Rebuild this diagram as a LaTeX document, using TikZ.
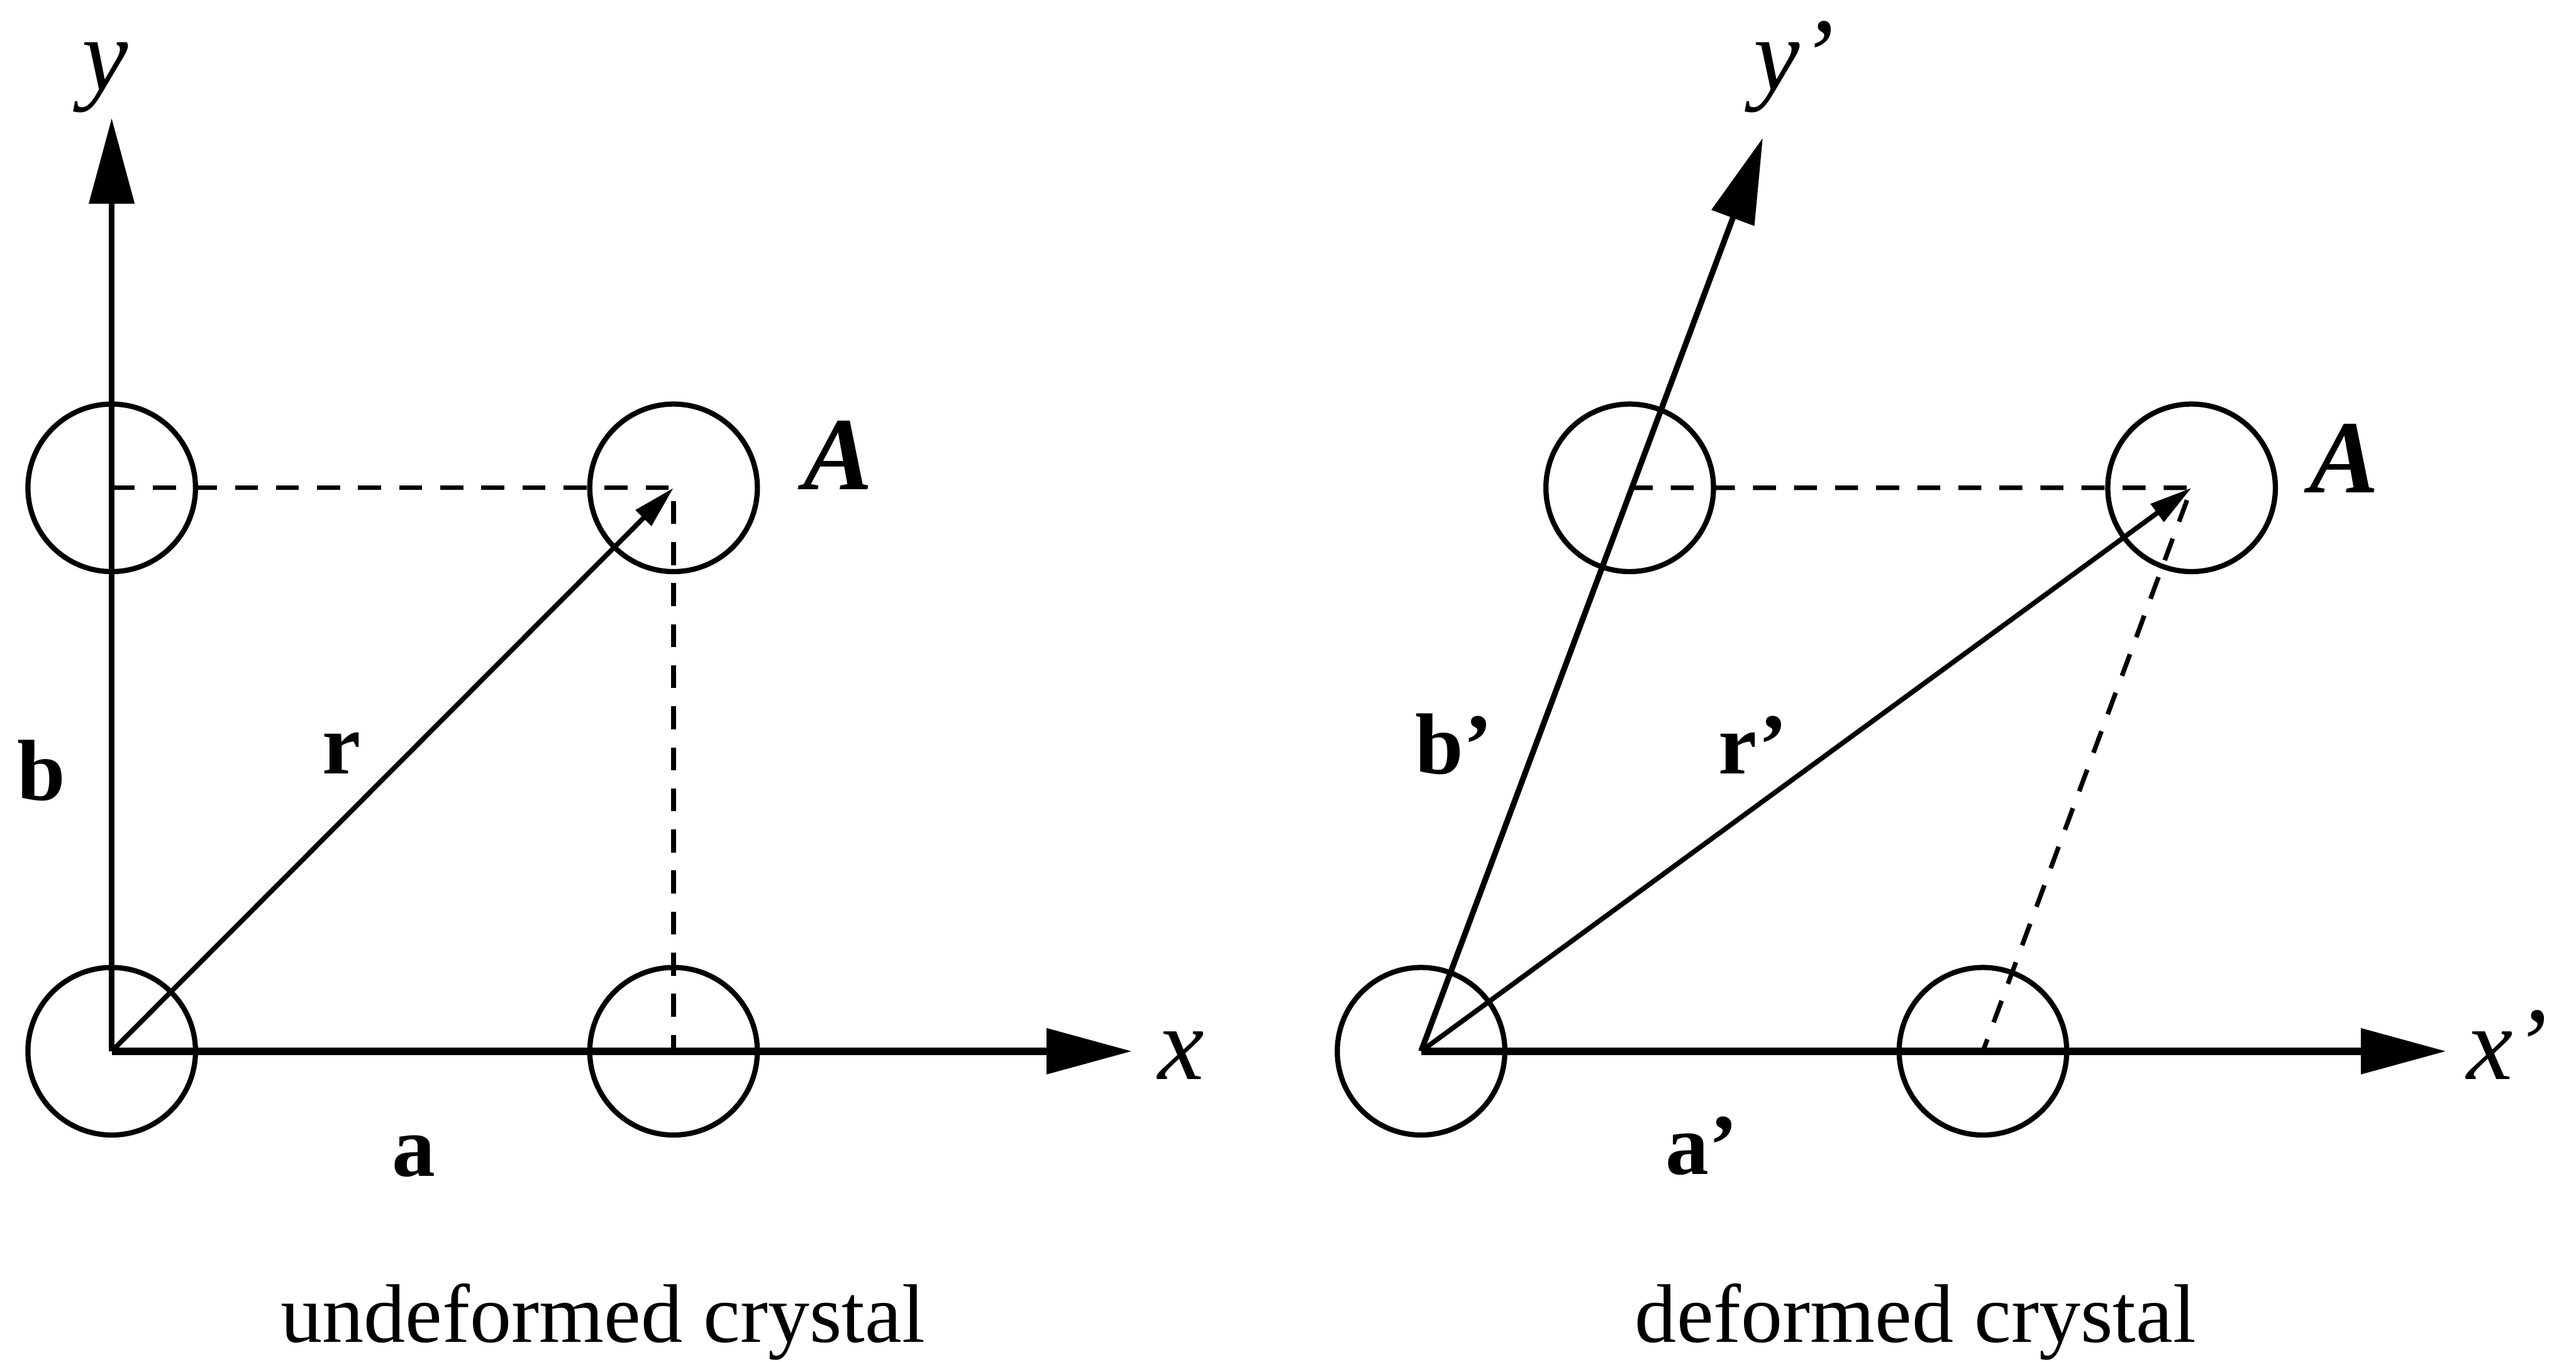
\documentclass[tikz,border=0pt]{standalone}
\usepackage{fontspec}
\setmainfont{Liberation Serif}
\usetikzlibrary{arrows.meta}
\tikzset{
  atom/.style    ={circle, draw, line width=0.9pt, minimum size=10.2mm, inner sep=0pt},
  axis/.style    ={-{Triangle[length=5.2mm, width=2.7mm]}, line width=1.25pt},
  vec/.style     ={-{Triangle[length=2.6mm, width=1.3mm]}, line width=0.85pt},
  guide/.style   ={dash pattern=on 1.4mm off 1.1mm, line width=0.8pt},
  veclabel/.style={anchor=base, inner sep=0pt, font=\fontsize{15}{18}\selectfont\bfseries},
  axlabel/.style ={anchor=base, inner sep=0pt, font=\fontsize{18}{21}\selectfont\itshape},
  ptlabel/.style ={anchor=base, inner sep=0pt, font=\fontsize{18}{21}\selectfont\bfseries\itshape},
  captext/.style ={anchor=base, inner sep=0pt, font=\fontsize{14.4}{17}\selectfont},
}

\begin{document}
\begin{tikzpicture}[x=0.1mm, y=-0.1mm]
    \useasboundingbox (0,0) rectangle (1568,829);

    % undeformed crystal
    \node[atom] (o1) at (68,640) {};
    \node[atom] (a1) at (410,640) {};
    \node[atom] (b1) at (68,297) {};
    \node[atom] (A1) at (410,297) {};
    \coordinate (x1) at (689,640);
    \coordinate (y1) at (68,72);

    \draw[guide] (b1.center) -- (A1.center) -- (a1.center);
    \draw[axis] (o1.center) -- (x1);
    \draw[axis, line width=1pt] (o1.center) -- (y1);
    \draw[vec] (o1.center) -- (A1.center);

    \node[axlabel] (xl1) at (719,657) {x};
    \node[axlabel] (yl1) at (64,55) {y};
    \node[veclabel] (al1) at (252,716) {a};
    \node[veclabel] (bl1) at (25,487) {b};
    \node[veclabel] (rl1) at (208,471) {r};
    \node[ptlabel] (Al1) at (510,298) {A};
    \node[captext] (cap1) at (367,817) {undeformed crystal};

    % deformed crystal
    \node[atom] (o2) at (865,640) {};
    \node[atom] (a2) at (1207,640) {};
    \node[atom] (b2) at (992,297) {};
    \node[atom] (A2) at (1334,297) {};
    \coordinate (x2) at (1489,640);
    \coordinate (y2) at (1073,84);

    \draw[guide] (b2.center) -- (A2.center) -- (a2.center);
    \draw[axis] (o2.center) -- (x2);
    \draw[axis, line width=1pt] (o2.center) -- (y2);
    \draw[vec] (o2.center) -- (A2.center);

    \node[axlabel] (xl2) at (1526,657) {x’};
    \node[axlabel] (yl2) at (1092,55) {y’};
    \node[veclabel] (al2) at (1036,715) {a’};
    \node[veclabel] (bl2) at (885,471) {b’};
    \node[veclabel] (rl2) at (1067,471) {r’};
    \node[ptlabel] (Al2) at (1427,300) {A};
    \node[captext] (cap2) at (1166,817) {deformed crystal};
\end{tikzpicture}
\end{document}
